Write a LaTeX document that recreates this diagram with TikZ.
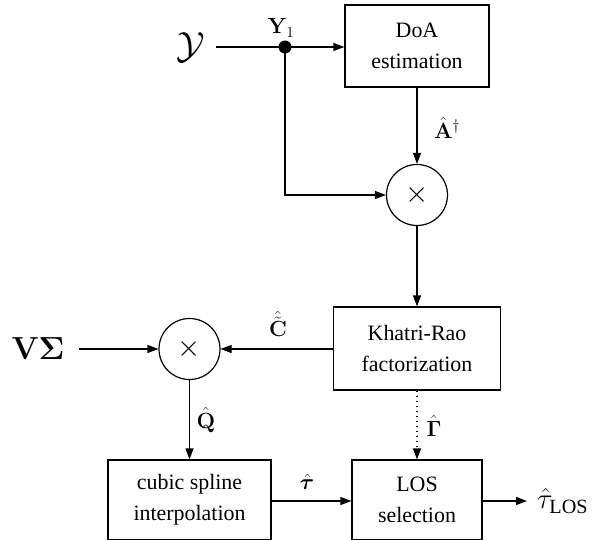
\RequirePackage{fix-cm}
\documentclass[tikz,border=0pt]{standalone}
\usepackage[no-math]{fontspec}
\setmainfont{Liberation Serif}
\usepackage{amsmath,amssymb,bm}
\usetikzlibrary{arrows.meta}
\begin{document}
\begin{tikzpicture}[x=1bp,y=-1bp,
  every node/.style={font=\fontsize{22}{26}\selectfont},
  block/.style={draw,line width=1.2bp,align=center,inner sep=0pt},
  mult/.style={draw,circle,line width=1.2bp,inner sep=0pt,minimum size=61bp,font=\fontsize{30}{30}\selectfont},
  link/.style={line width=1.2bp},
  flow/.style={link,-{Stealth[length=11bp,width=8bp,inset=0bp]}},
  sparse/.style={dash pattern=on 1.2bp off 3.8bp},
  lab/.style={inner sep=0pt}]
\useasboundingbox (0,0) rectangle (595,540);

% processing blocks
\node[block,minimum width=144bp,minimum height=82bp] (doa) at (417,46) {DoA\\[5pt]estimation};
\node[mult] (m1) at (417,195) {$\times$};
\node[block,minimum width=167bp,minimum height=83bp] (kr) at (417,348.5) {Khatri-Rao\\[5pt]factorization};
\node[mult] (m2) at (189.5,349) {$\times$};
\node[block,minimum width=163bp,minimum height=80bp] (cs) at (189.5,500) {cubic spline\\[5pt]interpolation};
\node[block,minimum width=130bp,minimum height=80bp] (los) at (417,500) {LOS\\[5pt]selection};

% inputs, branch point and output
\node[lab,font=\fontsize{38}{38}\selectfont] (y) at (191,47) {$\mathcal{Y}$};
\fill (285,47) circle (6.5bp);
\coordinate (br) at (285,47);
\coordinate (bend) at (285,195);
\node[lab,font=\fontsize{32}{32}\selectfont] (vs) at (38,349) {$\mathbf{V}\boldsymbol{\Sigma}$};
\node[lab,font=\fontsize{29}{29}\selectfont,anchor=west] (out) at (537,501) {$\hat{\tau}_{\text{LOS}}$};

% connections
\draw[link] (216,47) -- (br);
\draw[flow] (br) -- (doa.west |- br);
\draw[flow] (br) -- (bend) -- (m1.west);
\draw[flow] (doa.south) -- (m1.north);
\draw[flow] (m1.south) -- (kr.north);
\draw[flow] (kr.west |- m2) -- (m2.east);
\draw[flow] (vs.east) ++(14,0) -- (m2.west);
\draw[flow] (m2.south) -- (cs.north);
\draw[flow] (cs.east |- 0,501) -- (los.west |- 0,501);
\draw[flow,sparse] (kr.south) -- (los.north);
\draw[flow] (los.east |- 0,501) -- (527,501);

% signal labels
\node[lab] at (281,28) {$\mathbf{Y}_1$};
\node[lab] at (447,128) {$\hat{\mathbf{A}}^{\dagger}$};
\node[lab] at (278,324) {$\hat{\tilde{\mathbf{C}}}$};
\node[lab] at (206,420) {$\hat{\mathbf{Q}}$};
\node[lab] at (434,426) {$\hat{\boldsymbol{\Gamma}}$};
\node[lab] at (307,482) {$\hat{\boldsymbol{\tau}}$};
\end{tikzpicture}
\end{document}
